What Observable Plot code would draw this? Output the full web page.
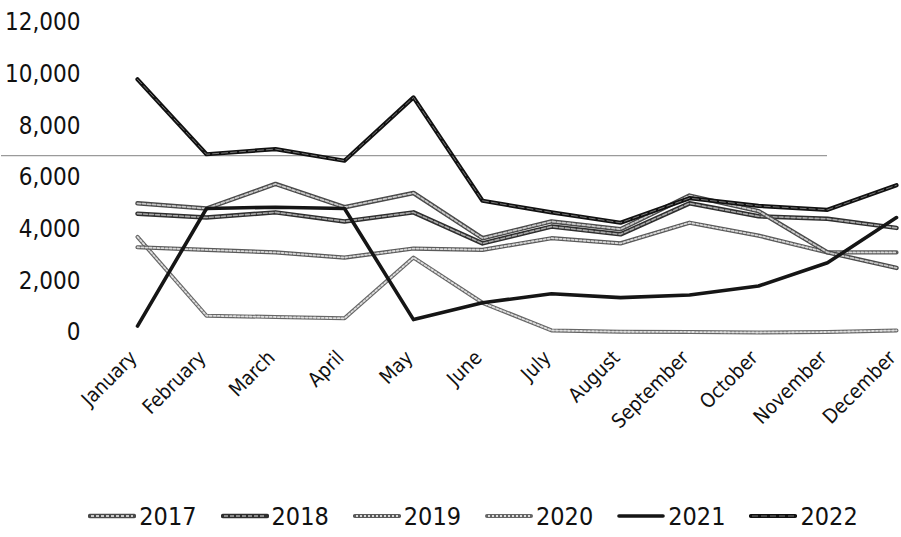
<!DOCTYPE html>
<html>
<head>
<meta charset="utf-8">
<script src="https://cdn.jsdelivr.net/npm/d3@7"></script>
<script src="https://cdn.jsdelivr.net/npm/@observablehq/plot@0.6"></script>
<style>
  html, body { margin: 0; padding: 0; background: #fff; }
  #chart { width: 901px; }
  #legend { display: flex; align-items: center; justify-content: center; height: 42px; padding-left: 45px; box-sizing: border-box; width: 901px;
            font-family: "DejaVu Sans Condensed", "Liberation Sans Narrow", sans-serif; font-size: 25px; color: #111; }
  .item { display: flex; align-items: center; margin: 0 12px; }
  .item svg { margin-right: 3px; }
</style>
</head>
<body>
<div id="chart"></div>
<div id="legend"></div>
<script>
const months = ["January","February","March","April","May","June","July","August","September","October","November","December"];
const years = ["2017","2018","2019","2020","2021","2022"];
const v2017 = [5000, 4800, 5750, 4850, 5400, 3650, 4300, 4000, 5300, 4700, 3100, 2500];
const v2018 = [4600, 4450, 4650, 4300, 4650, 3450, 4100, 3800, 5000, 4500, 4400, 4050];
const v2019 = [3300, 3200, 3100, 2900, 3250, 3200, 3650, 3450, 4250, 3750, 3100, 3100];
const v2020 = [3700, 650, 600, 550, 2900, 1150, 80, 30, 20, 0, 20, 80];
const v2021 = [250, 4800, 4850, 4800, 500, 1150, 1500, 1350, 1450, 1800, 2700, 4450];
const v2022 = [9800, 6900, 7100, 6650, 9100, 5100, 4650, 4250, 5200, 4900, 4750, 5700];
const yTicks = [0, 2000, 4000, 6000, 8000, 10000, 12000];
const strayLine = [{y: 6850, from: "January", to: "November"}];

const seriesValues = {"2017": v2017, "2018": v2018, "2019": v2019, "2020": v2020, "2021": v2021, "2022": v2022};
const styles = {
  "2017": {outer: "#4a4a4a", inner: "#c8c8c8", w: 4.5, iw: 1.8, dash: "3,2"},
  "2018": {outer: "#2e2e2e", inner: "#a8a8a8", w: 4.5, iw: 1.6, dash: "4,2"},
  "2019": {outer: "#5a5a5a", inner: "#d8d8d8", w: 4.2, iw: 1.8, dash: "2,2"},
  "2020": {outer: "#666666", inner: "#dedede", w: 4.0, iw: 1.8, dash: "2,2"},
  "2021": {outer: "#151515", inner: null, w: 3.6},
  "2022": {outer: "#111111", inner: "#777777", w: 4.2, iw: 1.0, dash: "6,3"}
};
const drawOrder = ["2020", "2019", "2018", "2017", "2021", "2022"];

const table = years.flatMap(yr => months.map((m, i) => ({year: yr, month: m, value: seriesValues[yr][i]})));

const font = '"DejaVu Sans Condensed", "Liberation Sans Narrow", sans-serif';
const lineMarks = drawOrder.flatMap(yr => {
  const s = styles[yr];
  const d = table.filter(r => r.year === yr);
  const marks = [Plot.line(d, {x: "month", y: "value", stroke: s.outer, strokeWidth: s.w, strokeLinejoin: "round", strokeLinecap: "round"})];
  if (s.inner) marks.push(Plot.line(d, {x: "month", y: "value", stroke: s.inner, strokeWidth: s.iw, strokeDasharray: s.dash, strokeLinejoin: "round"}));
  return marks;
});

const chart = Plot.plot({
  width: 901,
  height: 495,
  marginLeft: 136,
  marginRight: 4,
  marginTop: 22,
  marginBottom: 163,
  style: {fontFamily: font, color: "#111", background: "#fff", overflow: "visible"},
  x: {type: "point", domain: months, padding: 0},
  y: {domain: [0, 12000]},
  marks: [
    Plot.ruleY(strayLine, {y: "y", x1: "from", x2: "to", stroke: "#9a9a9a", strokeWidth: 1.2, insetLeft: -136}),
    ...lineMarks,
    Plot.axisY({ticks: yTicks, tickFormat: d3.format(","), tickSize: 0, tickPadding: 56, fontSize: 24, label: null}),
    Plot.axisX({tickSize: 0, tickRotate: -45, tickPadding: 22, dx: -4, fontSize: 20, label: null})
  ]
});
document.getElementById("chart").appendChild(chart);

const legend = d3.select("#legend");
years.forEach(yr => {
  const s = styles[yr];
  const it = legend.append("div").attr("class", "item");
  const sv = it.append("svg").attr("width", 48).attr("height", 10);
  sv.append("line").attr("x1", 2).attr("x2", 46).attr("y1", 5).attr("y2", 5)
    .attr("stroke", s.outer).attr("stroke-width", s.w).attr("stroke-linecap", "round");
  if (s.inner) sv.append("line").attr("x1", 3).attr("x2", 45).attr("y1", 5).attr("y2", 5)
    .attr("stroke", s.inner).attr("stroke-width", s.iw).attr("stroke-dasharray", s.dash);
  it.append("span").text(yr);
});
</script>
</body>
</html>
